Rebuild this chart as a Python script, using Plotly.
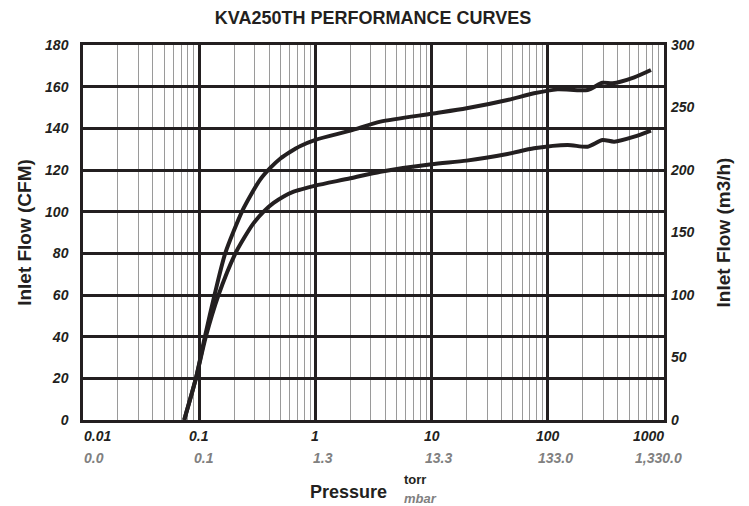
import math
import plotly.graph_objects as go

# ---- data ----
pressure_upper = [0.0743, 0.0937, 0.112, 0.1355, 0.1675, 0.2333, 0.275, 0.336, 0.409, 0.5, 0.6, 0.743, 1.0, 2.0, 3.63, 10, 20, 45, 76, 121, 220, 296, 361, 555, 772]
flow_upper = [0, 20, 40, 60, 80, 100, 107.5, 115.5, 121, 125.5, 128.5, 131.5, 134.5, 138.9, 143.2, 147, 149.6, 153.6, 156.8, 158.7, 158.4, 161.9, 161.6, 164.5, 168]

pressure_lower = [0.0743, 0.0937, 0.114, 0.1466, 0.205, 0.241, 0.294, 0.3656, 0.437, 0.533, 0.65, 0.743, 1.0, 2.0, 3.63, 10, 20, 45, 76, 148, 220, 296, 373, 555, 772]
flow_lower = [0, 20, 40, 60, 80, 87, 94.5, 100.5, 104.2, 107.3, 109.6, 110.6, 112.5, 116, 119.2, 122.8, 124.5, 127.7, 130.4, 132, 131.2, 134.4, 133.6, 136, 138.9]

torr_ticks = [0.01, 0.1, 1, 10, 100, 1000]
torr_labels = ["0.01", "0.1", "1", "10", "100", "1000"]
mbar_labels = ["0.0", "0.1", "1.3", "13.3", "133.0", "1,330.0"]
cfm_ticks = list(range(0, 181, 20))
m3h_ticks = list(range(0, 301, 50))

FONT = "Liberation Sans, Arial, sans-serif"
INK = "#231f20"
GREY = "#808080"

fig = go.Figure()
for xs, ys in [(pressure_upper, flow_upper), (pressure_lower, flow_lower)]:
    fig.add_trace(go.Scatter(x=xs, y=ys, mode="lines",
                             line=dict(color=INK, width=4, shape="spline", smoothing=0.7),
                             showlegend=False, hoverinfo="skip"))
# invisible trace to activate the right axis
fig.add_trace(go.Scatter(x=[1], y=[0], yaxis="y2", mode="markers",
                         marker=dict(opacity=0), showlegend=False, hoverinfo="skip"))

minor_vals = [m * 10 ** e for e in range(-2, 3) for m in range(2, 10)]

W, H = 749, 506
ML, MR, MT, MB = 83, 85, 45, 86

fig.update_layout(
    width=W, height=H, autosize=False,
    margin=dict(l=ML, r=MR, t=MT, b=MB),
    paper_bgcolor="white", plot_bgcolor="white",
    font=dict(family=FONT, color=INK),
    title=dict(text="<b>KVA250TH PERFORMANCE CURVES</b>", x=0.498, xanchor="center",
               y=1 - 18 / H, yanchor="middle", font=dict(size=18, family=FONT, color=INK)),
    xaxis=dict(type="log", range=[-2, 3], tickvals=torr_ticks, showticklabels=False,
               showgrid=True, gridcolor=INK, gridwidth=2.5,
               showline=True, linecolor=INK, linewidth=2.5, mirror=True,
               ticks="", zeroline=False,
               minor=dict(tickvals=minor_vals, showgrid=True, gridcolor="#9a9a9a", gridwidth=1.3, ticks="")),
    yaxis=dict(range=[0, 180], tickvals=cfm_ticks, showgrid=True, gridcolor=INK, gridwidth=2.5,
               showline=True, linecolor=INK, linewidth=2.5, mirror=True, zeroline=False,
               ticks="", ticklabelstandoff=9,
               tickfont=dict(size=14, family=FONT, color=INK, weight="bold", style="italic"),
               title=dict(text="<b>Inlet Flow (CFM)</b>", font=dict(size=19, family=FONT, color=INK), standoff=9)),
    yaxis2=dict(range=[0, 300], tickvals=m3h_ticks, overlaying="y", side="right",
                showgrid=False, zeroline=False, showline=False, ticks="", ticklabelstandoff=6,
                tickfont=dict(size=14, family=FONT, color=INK, weight="bold", style="italic"),
                title=dict(text="<b>Inlet Flow (m3/h)</b>", font=dict(size=19, family=FONT, color=INK), standoff=23)),
)

# x tick labels: torr (black) and mbar (grey) rows
left_offsets = [-1, -7, -4, -9, -12, -31]
for i, (v, t, m) in enumerate(zip(torr_ticks, torr_labels, mbar_labels)):
    if i == 0:
        anchor, shift = "left", -1
    elif i == len(torr_ticks) - 1:
        anchor, shift = "right", 2
    else:
        anchor, shift = "center", 0
    fig.add_annotation(x=math.log10(v), y=0, xref="x", yref="paper", yanchor="top",
                       xanchor=anchor, xshift=shift, yshift=-6, showarrow=False,
                       text=t, font=dict(size=14, family=FONT, color=INK, weight="bold", style="italic"))
    fig.add_annotation(x=math.log10(v), y=0, xref="x", yref="paper", yanchor="top",
                       xanchor="left", xshift=left_offsets[i], yshift=-28, showarrow=False,
                       text=m, font=dict(size=14, family=FONT, color=GREY, weight="bold", style="italic"))

pw, ph = W - ML - MR, H - MT - MB
def px(x):
    return (x - ML) / pw
def py(y):
    return (H - MB - y) / ph

fig.add_annotation(x=px(348), y=py(492), xref="paper", yref="paper", showarrow=False, text="<b>Pressure</b>",
                   xanchor="center", yanchor="middle", font=dict(size=18, family=FONT, color=INK))
fig.add_annotation(x=px(402), y=py(480), xref="paper", yref="paper", showarrow=False, text="<b>torr</b>",
                   xanchor="left", yanchor="middle", font=dict(size=13, family=FONT, color=INK))
fig.add_annotation(x=px(402), y=py(498), xref="paper", yref="paper", showarrow=False, text="<b><i>mbar</i></b>",
                   xanchor="left", yanchor="middle", font=dict(size=13, family=FONT, color=GREY))

fig.write_html("out.html", config={"displayModeBar": False},
               post_script="document.body.style.margin='0px';")
